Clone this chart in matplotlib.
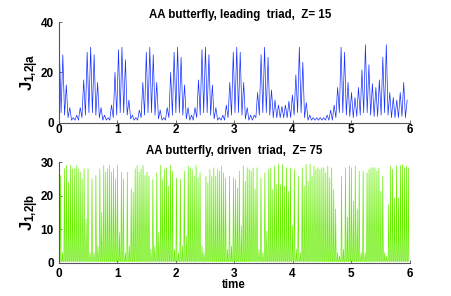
import matplotlib
matplotlib.use("Agg")
import matplotlib.pyplot as plt
import numpy as np

plt.rcParams.update({
    "font.family": "Liberation Sans", "font.weight": "bold", "font.size": 8.5,
    "mathtext.fontset": "custom", "mathtext.rm": "Liberation Sans:bold",
    "mathtext.bf": "Liberation Sans:bold", "mathtext.it": "Liberation Sans:bold",
})

# leading triad: heights of the successive fast peaks and the dips between them
lead_peaks = [30, 27, 15, 6, 2, 3, 6, 17, 28, 30,
              27, 16, 6, 3, 2, 7, 20, 29, 30,
              25, 9, 3, 2, 5, 16, 28, 30,
              27, 16, 5, 2, 6, 20, 28, 30,
              26, 15, 6, 3, 6, 17, 29, 30,
              27, 15, 6, 2, 3, 7, 16, 28, 30,
              28, 16, 6, 3, 3, 12, 27, 30,
              26, 13, 9, 7, 6.5, 7, 8.5, 11, 19, 30,
              24, 8, 3, 2, 2, 2, 2, 3, 5, 7, 14, 30,
              28, 16, 12, 10, 14, 21, 31,
              23, 15.5, 14, 17, 26, 31,
              12, 10, 9, 12, 16, 9]
lead_dips = [4, 3, 2, 1, 1, 1, 2, 3, 4,
             4, 3, 2, 1, 1, 1, 2, 3, 4,
             4, 3, 1.5, 1, 1, 2, 3, 4,
             4, 3, 1.5, 1, 1, 2, 3, 4,
             4, 3, 1.5, 1, 1, 2, 3, 4,
             4, 3, 1.5, 1, 1, 1, 2, 3, 4,
             4, 3, 1.5, 1, 1, 2, 3, 4,
             4, 3, 2, 2, 2, 2, 2, 2, 3, 4,
             4, 2, 1, 1, 1, 1, 1, 1, 1, 1, 2, 4,
             4, 3, 2.5, 2, 2.5, 3, 4,
             4, 3, 2.5, 2.5, 3, 4,
             3, 2, 2, 2, 2.5, 2]

# driven triad: spike heights
driven_peaks = [26, 3, 28, 29, 24, 29, 28, 28, 29, 28, 27, 25, 28, 13, 28, 3, 25, 3,
                26, 5, 28, 15, 29, 27, 28, 29, 27, 28, 25, 29, 9, 27, 25, 3, 27, 5,
                22, 21, 28, 29, 27, 28, 29, 26, 27,
                25.8, 4, 24.8, 5, 26.8, 9, 29, 24.8, 27.8, 28.3, 22.8, 29, 27.3, 4,
                25.3, 3, 24.8, 5, 27.3, 8, 28.8, 28.3, 27.8, 25.8, 29, 25.3, 26.8, 5,
                3, 25.8, 23.8, 27.8, 25.8, 28.3, 25.8, 27.8, 27.3, 28.8, 26.8, 25.3,
                4, 25.8, 5, 25.3,
                24.8, 22.3, 27.3, 11, 28.8, 24.3, 28.3, 27.8, 27.3, 28.3, 22, 28.3, 4,
                25.3, 3, 26.8, 9.4, 27.8, 28.3, 21.8, 28.8, 23.3, 29.3, 23.3, 29.3,
                22.8, 28.3, 21.3, 28.3, 11, 27.8, 4, 25.8, 3, 28.3, 22.8, 29.3, 24.3,
                29.3, 25.8, 28.8, 27.8, 28.3, 27.8, 28.3,
                28.3, 26.8, 28.8, 25.3, 28.3, 21.8, 16, 3, 2, 25.8, 4, 28.3, 13.6,
                28.8, 28.3, 18.3, 28.8, 16, 27.3, 3, 27.3, 3, 26.8, 27.8, 28.3, 28.3,
                28.3, 27.3, 28.3, 21.3, 25.8, 3, 2, 17.3, 28.8, 27.8, 19.3, 28.8,
                19.3, 29, 29.3, 28.3, 28.8, 28.3]
driven_dip = 0.4


def zigzag(t_peaks, peaks, dips):
    t = np.empty(2 * len(peaks) - 1)
    y = np.empty_like(t)
    t[0::2] = t_peaks
    t[1::2] = 0.5 * (t_peaks[:-1] + t_peaks[1:])
    y[0::2] = peaks
    y[1::2] = dips
    return t, y


def spikes(t_peaks, peaks, base, frac=0.28):
    # narrow spikes rising from a flat base
    w = frac * (t_peaks[1] - t_peaks[0])
    t = np.column_stack([t_peaks - w, t_peaks, t_peaks + w]).ravel()
    y = np.column_stack([np.full(len(peaks), base), peaks,
                         np.full(len(peaks), base)]).ravel()
    return t, y


t_lead = np.linspace(0.01, 5.96, len(lead_peaks))
t_drv = np.linspace(0.03, 5.98, len(driven_peaks))
x1, y1 = zigzag(t_lead, lead_peaks, lead_dips)
x2, y2 = spikes(t_drv, np.array(driven_peaks), driven_dip)

fig = plt.figure(figsize=(4.52, 2.96), dpi=100)
ax1 = fig.add_axes([0.13, 0.5855, 0.776, 0.34])
ax2 = fig.add_axes([0.13, 0.1125, 0.776, 0.34])

ax1.plot(x1, y1, color="#1530ff", lw=0.5)
ax2.plot(x2, y2, color="#66ee00", lw=0.5)

for ax in (ax1, ax2):
    ax.set_xlim(0, 6)
    ax.set_xticks(range(7))
    for s in ("top", "right"):
        ax.spines[s].set_visible(False)
    for s in ("left", "bottom"):
        ax.spines[s].set_color("#555555")
        ax.spines[s].set_linewidth(0.8)
    ax.tick_params(direction="in", length=2.5, width=0.6, color="#555555",
                   labelsize=8.5)

ax1.set_ylim(0, 40)
ax1.set_yticks([0, 20, 40])
ax1.tick_params(axis="x", pad=1)
ax1.set_title("AA butterfly, leading  triad,  Z= 15", fontsize=8.3,
              fontweight="bold", pad=3, x=0.518)
ax1.set_ylabel(r"$\mathbf{J}_{\mathbf{1{,}2|a}}$", fontsize=12, labelpad=0)

ax2.set_ylim(0, 30)
ax2.set_yticks([0, 10, 20, 30])
ax2.tick_params(axis="x", pad=4)
ax2.set_title("AA butterfly, driven  triad,  Z= 75", fontsize=8.3,
              fontweight="bold", pad=6)
ax2.set_ylabel(r"$\mathbf{J}_{\mathbf{1{,}2|b}}$", fontsize=12, labelpad=0)
ax2.set_xlabel("time", fontsize=8.3, fontweight="bold", labelpad=-1)

fig.savefig("out.png", dpi=100)
